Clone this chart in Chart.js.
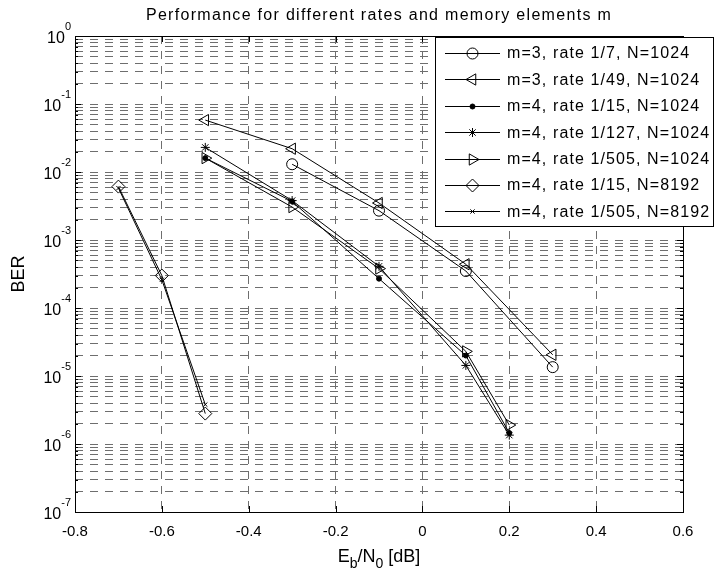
<!DOCTYPE html>
<html>
<head>
<meta charset="utf-8">
<script src="https://cdn.jsdelivr.net/npm/chart.js@4.4.1/dist/chart.umd.min.js"></script>
<style>
  html, body { margin: 0; padding: 0; background: #fff; }
  #wrap { width: 719px; height: 573px; }
</style>
</head>
<body>
<div id="wrap"><canvas id="berChart" width="719" height="573"></canvas></div>
<script>
const titleText = "Performance for different rates and memory elements m";
const yTitle = "BER";

const xTicks = [-0.8, -0.6, -0.4, -0.2, 0, 0.2, 0.4, 0.6];
const yExponents = [-7, -6, -5, -4, -3, -2, -1, 0];
const yMultipliers = [1, 2, 3, 4, 5, 6, 7, 8, 9];

// Eb/N0 values [dB]
const ebnoM3R7 = [-0.3, -0.1, 0.1, 0.3];
const ebnoM3R49 = [-0.5, -0.3, -0.1, 0.1, 0.3];
const ebnoM4 = [-0.5, -0.3, -0.1, 0.1, 0.2];
const ebnoN8192 = [-0.7, -0.6, -0.5];

// BER values
const berM3R7 = [1.3e-2, 2.7e-3, 3.5e-4, 1.35e-5];
const berM3R49 = [5.8e-2, 2.2e-2, 3.5e-3, 4.4e-4, 2.05e-5];
const berM4R15 = [1.6e-2, 3.7e-3, 2.7e-4, 2.0e-5, 1.45e-6];
const berM4R127 = [2.3e-2, 3.8e-3, 4.1e-4, 1.43e-5, 1.35e-6];
const berM4R505 = [1.6e-2, 3.05e-3, 3.8e-4, 2.3e-5, 1.9e-6];
const berM4R15N8192 = [6.1e-3, 3.0e-4, 2.8e-6];
const berM4R505N8192 = [5.8e-3, 2.6e-4, 3.8e-6];

const seriesLabels = [
  "m=3, rate 1/7, N=1024",
  "m=3, rate 1/49, N=1024",
  "m=4, rate 1/15, N=1024",
  "m=4, rate 1/127, N=1024",
  "m=4, rate 1/505, N=1024",
  "m=4, rate 1/15, N=8192",
  "m=4, rate 1/505, N=8192",
];

const FONT = '"Liberation Sans", Arial, sans-serif';

const markers = [
  { pointStyle: "circle", radius: 5.5, rotation: 0, fill: false },
  { pointStyle: "triangle", radius: 6.5, rotation: -90, fill: false },
  { pointStyle: "circle", radius: 2.5, rotation: 0, fill: true },
  { pointStyle: "star", radius: 4.5, rotation: 0, fill: false },
  { pointStyle: "triangle", radius: 6.5, rotation: 90, fill: false },
  { pointStyle: "rectRot", radius: 6.5, rotation: 0, fill: false },
  { pointStyle: "crossRot", radius: 3, rotation: 0, fill: false },
];

const seriesData = [
  [ebnoM3R7, berM3R7],
  [ebnoM3R49, berM3R49],
  [ebnoM4, berM4R15],
  [ebnoM4, berM4R127],
  [ebnoM4, berM4R505],
  [ebnoN8192, berM4R15N8192],
  [ebnoN8192, berM4R505N8192],
];

const datasets = seriesData.map(([xs, ys], i) => {
  const mk = markers[i];
  return {
    label: seriesLabels[i],
    data: xs.map((x, j) => ({ x, y: ys[j] })),
    borderColor: "#000",
    borderWidth: 1,
    backgroundColor: "#000",
    tension: 0,
    pointStyle: mk.pointStyle,
    pointRadius: mk.radius,
    pointRotation: mk.rotation,
    pointBorderColor: "#000",
    pointBorderWidth: 1,
    pointBackgroundColor: mk.fill ? "#000" : "rgba(0,0,0,0)",
    pointHoverRadius: mk.radius,
  };
});

const matlabAxes = {
  id: "matlabAxes",
  afterDraw(chart) {
    const { ctx, chartArea: area } = chart;
    const xs = chart.scales.x;
    const ys = chart.scales.y;
    ctx.save();

    // inner tick marks
    ctx.strokeStyle = "#000";
    ctx.lineWidth = 1;
    ctx.setLineDash([]);
    ctx.beginPath();
    xTicks.forEach((v) => {
      const px = Math.round(xs.getPixelForValue(v)) + 0.5;
      ctx.moveTo(px, area.bottom);
      ctx.lineTo(px, area.bottom - 6);
      ctx.moveTo(px, area.top);
      ctx.lineTo(px, area.top + 6);
    });
    yExponents.forEach((e) => {
      yMultipliers.forEach((m) => {
        const v = m * Math.pow(10, e);
        if (v > 1) return;
        const len = m === 1 ? 6 : 3;
        const py = Math.round(ys.getPixelForValue(v)) + 0.5;
        ctx.moveTo(area.left, py);
        ctx.lineTo(area.left + len, py);
        ctx.moveTo(area.right, py);
        ctx.lineTo(area.right - len, py);
      });
    });
    ctx.stroke();

    // box
    ctx.strokeRect(Math.round(area.left) + 0.5, Math.round(area.top) + 0.5,
      Math.round(area.right - area.left), Math.round(area.bottom - area.top));

    ctx.fillStyle = "#000";

    // y tick labels 10^e
    yExponents.forEach((e) => {
      const py = ys.getPixelForValue(Math.pow(10, e));
      const expText = String(e);
      ctx.font = `11px ${FONT}`;
      const ew = ctx.measureText(expText).width;
      ctx.font = `16px ${FONT}`;
      const bw = ctx.measureText("10").width;
      const right = area.left - 4;
      ctx.textAlign = "left";
      ctx.textBaseline = "alphabetic";
      ctx.fillText("10", right - ew - bw, py + 7);
      ctx.font = `11px ${FONT}`;
      ctx.fillText(expText, right - ew, py - 6);
    });

    // y title
    ctx.save();
    ctx.translate(24, (area.top + area.bottom) / 2);
    ctx.rotate(-Math.PI / 2);
    ctx.font = `18px ${FONT}`;
    ctx.textAlign = "center";
    ctx.textBaseline = "alphabetic";
    ctx.fillText(yTitle, 0, 0);
    ctx.restore();

    // x title: E_b/N_0 [dB]
    const parts = [
      { t: "E", sub: false },
      { t: "b", sub: true },
      { t: "/N", sub: false },
      { t: "0", sub: true },
      { t: " [dB]", sub: false },
    ];
    let total = 0;
    parts.forEach((p) => {
      ctx.font = p.sub ? `14px ${FONT}` : `18px ${FONT}`;
      p.w = ctx.measureText(p.t).width;
      total += p.w;
    });
    let cx = (area.left + area.right) / 2 - total / 2;
    const baseY = 562;
    ctx.textAlign = "left";
    parts.forEach((p) => {
      ctx.font = p.sub ? `14px ${FONT}` : `18px ${FONT}`;
      ctx.fillText(p.t, cx, p.sub ? baseY + 6 : baseY);
      cx += p.w;
    });

    // title
    ctx.font = `16px ${FONT}`;
    ctx.letterSpacing = "1.3px";
    ctx.textAlign = "center";
    ctx.fillText(titleText, (area.left + area.right) / 2, 20);

    // legend
    const lg = { left: 435, top: 37, right: 713, bottom: 226 };
    ctx.letterSpacing = "0px";
    ctx.fillStyle = "#fff";
    ctx.fillRect(lg.left, lg.top, lg.right - lg.left, lg.bottom - lg.top);
    ctx.strokeStyle = "#000";
    ctx.strokeRect(lg.left + 0.5, lg.top + 0.5, lg.right - lg.left, lg.bottom - lg.top);
    chart.data.datasets.forEach((ds, i) => {
      const rowY = lg.top + 16 + i * 26.4;
      const ly = Math.round(rowY) + 0.5;
      ctx.strokeStyle = "#000";
      ctx.lineWidth = 1;
      ctx.beginPath();
      ctx.moveTo(lg.left + 10, ly);
      ctx.lineTo(lg.left + 65, ly);
      ctx.stroke();
      const mk = markers[i];
      ctx.fillStyle = mk.fill ? "#000" : "rgba(0,0,0,0)";
      Chart.helpers.drawPoint(ctx, {
        pointStyle: mk.pointStyle,
        radius: mk.radius,
        rotation: mk.rotation,
        borderWidth: 1,
      }, lg.left + 37.5, ly);
      ctx.fillStyle = "#000";
      ctx.font = `16px ${FONT}`;
      ctx.letterSpacing = "1.1px";
      ctx.textAlign = "left";
      ctx.textBaseline = "middle";
      ctx.fillText(ds.label, lg.left + 72, rowY + 1);
      ctx.letterSpacing = "0px";
    });

    ctx.restore();
  },
};

const ctx = document.getElementById("berChart").getContext("2d");
new Chart(ctx, {
  type: "line",
  data: { datasets },
  options: {
    responsive: false,
    animation: false,
    devicePixelRatio: 1,
    layout: { padding: { left: 75, right: 36, top: 36, bottom: 21 } },
    plugins: {
      legend: { display: false },
      title: { display: false },
      tooltip: { enabled: false },
    },
    scales: {
      x: {
        type: "linear",
        min: -0.8,
        max: 0.6,
        afterBuildTicks: (scale) => {
          scale.ticks = xTicks.map((v) => ({ value: v }));
        },
        ticks: {
          padding: 11,
          color: "#000",
          font: { family: FONT, size: 15 },
          maxRotation: 0,
          autoSkip: false,
          callback: (v) => String(Number(Number(v).toFixed(1))),
        },
        grid: { color: "#6e6e6e", lineWidth: 1, drawTicks: false },
        border: { display: false, dash: [8, 7] },
      },
      y: {
        type: "logarithmic",
        min: 1e-7,
        max: 1,
        afterBuildTicks: (scale) => {
          const t = [];
          yExponents.forEach((e) => {
            yMultipliers.forEach((m) => {
              const v = m * Math.pow(10, e);
              if (v <= 1) t.push({ value: v });
            });
          });
          scale.ticks = t;
        },
        ticks: { display: false },
        grid: { color: "#6e6e6e", lineWidth: 1, drawTicks: false },
        border: { display: false, dash: [8, 7] },
      },
    },
  },
  plugins: [matlabAxes],
});
</script>
</body>
</html>
